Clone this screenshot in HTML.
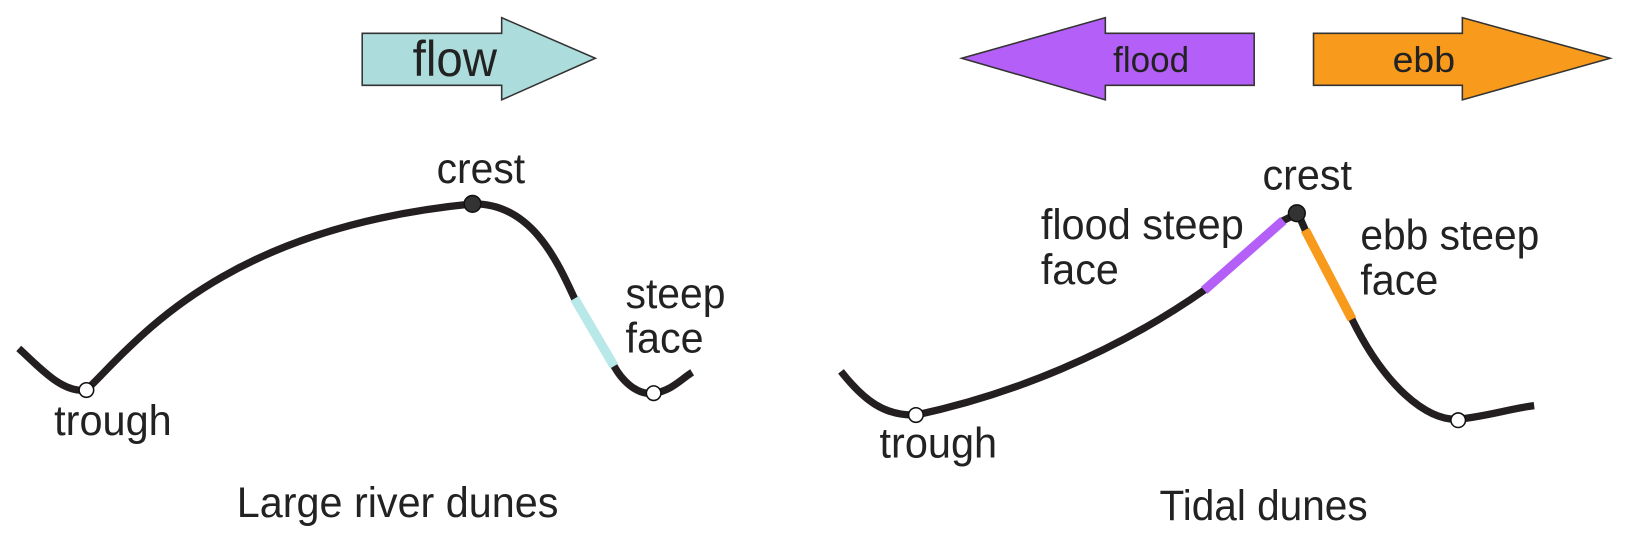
<!DOCTYPE html>
<html><head><meta charset="utf-8"><style>
html,body{margin:0;padding:0;background:#fff;}
svg{display:block;}
text{font-family:"Liberation Sans",Arial,sans-serif;fill:#222;}
</style></head><body>
<svg width="1632" height="544" viewBox="0 0 1568 523" preserveAspectRatio="none" xmlns="http://www.w3.org/2000/svg">
<polygon points="348,32 482,32 482,17 572,56 482,96 482,82 348,82" fill="#acdcdc" stroke="#333" stroke-width="1.5"/>
<text x="437" y="73" font-size="48" text-anchor="middle" textLength="81" lengthAdjust="spacingAndGlyphs">flow</text>
<polygon points="924,56 1062,17 1062,32 1205,32 1205,82 1062,82 1062,96" fill="#b460f8" stroke="#333" stroke-width="1.5"/>
<text x="1106" y="69" font-size="35" text-anchor="middle" textLength="73" lengthAdjust="spacingAndGlyphs">flood</text>
<polygon points="1262,32 1405,32 1405,17 1547,56 1405,96 1405,82 1262,82" fill="#f89a1c" stroke="#333" stroke-width="1.5"/>
<text x="1368" y="69" font-size="35" text-anchor="middle" textLength="60" lengthAdjust="spacingAndGlyphs">ebb</text>

<path d="M18,335 C40,355 60,378 83,375 C130,330 210,220 454,196 C510,195 535,250 552,287 L590,352 C600,370 615,380 628,378 C645,376 655,364 665,358" fill="none" stroke="#231f20" stroke-width="7"/>
<line x1="552" y1="287" x2="590" y2="352" stroke="#b8e8e8" stroke-width="9"/>
<circle cx="454" cy="196" r="8" fill="#333" stroke="#111" stroke-width="1.5"/>
<circle cx="83" cy="375" r="7" fill="#fff" stroke="#111" stroke-width="1.5"/>
<circle cx="628" cy="378" r="7" fill="#fff" stroke="#111" stroke-width="1.5"/>
<text x="462" y="176" font-size="41" text-anchor="middle" textLength="85" lengthAdjust="spacingAndGlyphs">crest</text>
<text x="52" y="418" font-size="41" textLength="113" lengthAdjust="spacingAndGlyphs">trough</text>
<text x="601" y="296" font-size="41" textLength="96" lengthAdjust="spacingAndGlyphs">steep</text>
<text x="601" y="339" font-size="41" textLength="75" lengthAdjust="spacingAndGlyphs">face</text>
<text x="382" y="497" font-size="41" text-anchor="middle" textLength="309" lengthAdjust="spacingAndGlyphs">Large river dunes</text>

<path d="M808,357 C830,385 850,400 880,399 C970,380 1070,340 1157,279 L1233,212 L1247,205 L1254,221 L1299,307 C1330,370 1370,405 1401,403 C1430,400 1450,393 1474,390" fill="none" stroke="#231f20" stroke-width="7"/>
<line x1="1157" y1="279" x2="1233" y2="212" stroke="#b460f8" stroke-width="9"/>
<line x1="1254" y1="221" x2="1299" y2="307" stroke="#f89a1c" stroke-width="9"/>
<circle cx="1246" cy="205" r="8" fill="#333" stroke="#111" stroke-width="1.5"/>
<circle cx="880" cy="399" r="7" fill="#fff" stroke="#111" stroke-width="1.5"/>
<circle cx="1401" cy="404" r="7" fill="#fff" stroke="#111" stroke-width="1.5"/>
<text x="1256" y="182" font-size="41" text-anchor="middle" textLength="86" lengthAdjust="spacingAndGlyphs">crest</text>
<text x="1000" y="230" font-size="41" textLength="195" lengthAdjust="spacingAndGlyphs">flood steep</text>
<text x="1000" y="273" font-size="41" textLength="75" lengthAdjust="spacingAndGlyphs">face</text>
<text x="1307" y="240" font-size="41" textLength="172" lengthAdjust="spacingAndGlyphs">ebb steep</text>
<text x="1307" y="283" font-size="41" textLength="75" lengthAdjust="spacingAndGlyphs">face</text>
<text x="845" y="440" font-size="41" textLength="113" lengthAdjust="spacingAndGlyphs">trough</text>
<text x="1214" y="500" font-size="41" text-anchor="middle" textLength="200" lengthAdjust="spacingAndGlyphs">Tidal dunes</text>
</svg>
</body></html>
